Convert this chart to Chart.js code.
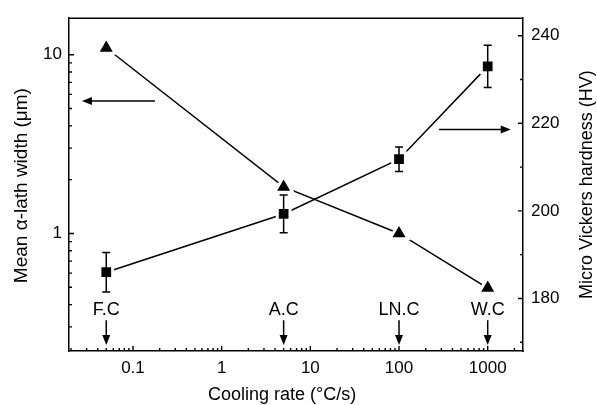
<!DOCTYPE html>
<html>
<head>
<meta charset="utf-8">
<script src="https://cdn.jsdelivr.net/npm/chart.js@4.4.1/dist/chart.umd.min.js"></script>
<style>
  html, body { margin: 0; padding: 0; background: #fff; }
</style>
</head>
<body>
<canvas id="chart" width="597" height="405"></canvas>
<script>
// data
const coolingRates = [0.05, 5, 100, 1000];          // °C/s
const coolingNames = ['F.C', 'A.C', 'LN.C', 'W.C'];
const lathWidth    = [10.9, 1.82, 1.0, 0.495];      // µm, left log axis
const hardness     = [186.0, 199.3, 211.8, 233.0];  // HV, right axis
const hardnessErr  = [4.5, 4.3, 2.8, 4.8];

// axes
const xRange      = [0.019, 2500];
const leftRange   = [0.22, 16];
const rightRange  = [168, 244];
const xTickLabels = [0.1, 1, 10, 100, 1000];
const leftTickLabels  = [1, 10];
const rightTickValues = [170, 180, 190, 200, 210, 220, 230, 240];
const rightTickLabels = [180, 200, 220, 240];

// annotations (in data units)
const nameLabelY = 0.352, nameArrowTop = 0.327, nameArrowTip = 0.2375;
const leftArrow  = { y: 5.5,   from: 0.177, to: 0.0266 };
const rightArrow = { y: 218.6, from: 283,   to: 1820 };

const FONT = '"Liberation Sans", Arial, sans-serif';

// log ticks 1..9 per decade inside the range
function logTicks(min, max) {
  const out = [];
  for (let e = Math.floor(Math.log10(min)); e <= Math.ceil(Math.log10(max)); e++) {
    for (let m = 1; m <= 9; m++) {
      const v = parseFloat((m * Math.pow(10, e)).toPrecision(6));
      if (v >= min && v <= max) out.push({ value: v });
    }
  }
  return out;
}
function isIn(list, v) {
  return list.some(t => Math.abs(t - v) / t < 1e-6);
}

function arrow(ctx, x1, y1, x2, y2, head, half) {
  const a = Math.atan2(y2 - y1, x2 - x1);
  ctx.beginPath();
  ctx.moveTo(x1, y1);
  ctx.lineTo(x2 - Math.cos(a) * head * 0.8, y2 - Math.sin(a) * head * 0.8);
  ctx.stroke();
  ctx.beginPath();
  ctx.moveTo(x2, y2);
  ctx.lineTo(x2 - Math.cos(a) * head - Math.sin(a) * half, y2 - Math.sin(a) * head + Math.cos(a) * half);
  ctx.lineTo(x2 - Math.cos(a) * head + Math.sin(a) * half, y2 - Math.sin(a) * head - Math.cos(a) * half);
  ctx.closePath();
  ctx.fill();
}

const decorPlugin = {
  id: 'decor',
  afterDraw(chart) {
    const ctx = chart.ctx;
    const a = chart.chartArea;
    const sx = chart.scales.x, sy = chart.scales.y, sy2 = chart.scales.y2;
    ctx.save();
    ctx.strokeStyle = '#000';
    ctx.fillStyle = '#000';

    // top frame line
    ctx.lineWidth = 1.5;
    ctx.beginPath();
    ctx.moveTo(a.left, a.top);
    ctx.lineTo(a.right, a.top);
    ctx.stroke();

    // inward tick marks
    ctx.lineWidth = 1.4;
    ctx.beginPath();
    sx.ticks.forEach(t => {
      const px = sx.getPixelForValue(t.value);
      const len = isIn(xTickLabels, t.value) ? 5 : 3;
      ctx.moveTo(px, a.bottom); ctx.lineTo(px, a.bottom - len);
    });
    sy.ticks.forEach(t => {
      const py = sy.getPixelForValue(t.value);
      const len = isIn(leftTickLabels, t.value) ? 5 : 3;
      ctx.moveTo(a.left, py); ctx.lineTo(a.left + len, py);
    });
    sy2.ticks.forEach(t => {
      const py = sy2.getPixelForValue(t.value);
      const len = rightTickLabels.includes(t.value) ? 5 : 3;
      ctx.moveTo(a.right, py); ctx.lineTo(a.right - len, py);
    });
    ctx.stroke();

    // error bars on hardness
    ctx.lineWidth = 1.5;
    hardness.forEach((h, i) => {
      const px = sx.getPixelForValue(coolingRates[i]);
      const top = sy2.getPixelForValue(h + hardnessErr[i]);
      const bot = sy2.getPixelForValue(h - hardnessErr[i]);
      ctx.beginPath();
      ctx.moveTo(px, top); ctx.lineTo(px, bot);
      ctx.moveTo(px - 4, top); ctx.lineTo(px + 4, top);
      ctx.moveTo(px - 4, bot); ctx.lineTo(px + 4, bot);
      ctx.stroke();
    });

    // cooling method labels with down arrows
    ctx.font = '18px ' + FONT;
    ctx.textAlign = 'center';
    ctx.textBaseline = 'alphabetic';
    coolingNames.forEach((n, i) => {
      const px = sx.getPixelForValue(coolingRates[i]);
      ctx.fillText(n, px, sy.getPixelForValue(nameLabelY));
      ctx.lineWidth = 1.5;
      arrow(ctx, px, sy.getPixelForValue(nameArrowTop), px, sy.getPixelForValue(nameArrowTip), 10, 4);
    });

    // axis pointers
    arrow(ctx, sx.getPixelForValue(leftArrow.from), sy.getPixelForValue(leftArrow.y),
               sx.getPixelForValue(leftArrow.to), sy.getPixelForValue(leftArrow.y), 10, 4);
    arrow(ctx, sx.getPixelForValue(rightArrow.from), sy2.getPixelForValue(rightArrow.y),
               sx.getPixelForValue(rightArrow.to), sy2.getPixelForValue(rightArrow.y), 10, 4);

    // axis titles
    ctx.textBaseline = 'middle';
    ctx.font = '18px ' + FONT;
    ctx.fillText('Cooling rate (°C/s)', 282, 395);
    ctx.save();
    ctx.translate(22, (a.top + a.bottom) / 2 + 1);
    ctx.rotate(-Math.PI / 2);
    ctx.font = '19px ' + FONT;
    ctx.fillText('Mean α-lath width (μm)', 0, 0);
    ctx.restore();
    ctx.save();
    ctx.translate(587, (a.top + a.bottom) / 2);
    ctx.rotate(-Math.PI / 2);
    ctx.font = '18px ' + FONT;
    ctx.fillText('Micro Vickers hardness (HV)', 0, 0);
    ctx.restore();

    ctx.restore();
  }
};

const tickFont = { family: FONT, size: 17 };

new Chart(document.getElementById('chart'), {
  type: 'line',
  data: {
    datasets: [
      {
        label: 'Mean α-lath width',
        data: coolingRates.map((x, i) => ({ x: x, y: lathWidth[i] })),
        yAxisID: 'y',
        borderColor: '#000',
        backgroundColor: '#000',
        borderWidth: 1.5,
        pointStyle: 'triangle',
        pointRadius: 10.5,
        pointBorderColor: '#fff',
        pointBorderWidth: 3,
        tension: 0
      },
      {
        label: 'Micro Vickers hardness',
        data: coolingRates.map((x, i) => ({ x: x, y: hardness[i] })),
        yAxisID: 'y2',
        borderColor: '#000',
        backgroundColor: '#000',
        borderWidth: 1.5,
        pointStyle: 'rect',
        pointRadius: 9,
        pointBorderColor: '#fff',
        pointBorderWidth: 3,
        tension: 0
      }
    ]
  },
  options: {
    responsive: false,
    animation: false,
    devicePixelRatio: 1,
    layout: { padding: { top: 14, left: 0, right: 0, bottom: 0 } },
    plugins: {
      legend: { display: false },
      tooltip: { enabled: false }
    },
    scales: {
      x: {
        type: 'logarithmic',
        position: 'bottom',
        min: xRange[0],
        max: xRange[1],
        bounds: 'data',
        afterBuildTicks: s => { s.ticks = logTicks(xRange[0], xRange[1]); },
        afterFit: s => { s.height = 54; },
        grid: { display: false, drawTicks: false },
        border: { display: true, color: '#000', width: 1.5 },
        ticks: {
          autoSkip: false,
          maxRotation: 0,
          padding: 7,
          color: '#000',
          font: tickFont,
          callback: v => { const t = xTickLabels.find(l => Math.abs(l - v) / l < 1e-6); return t !== undefined ? String(t) : ''; }
        }
      },
      y: {
        type: 'logarithmic',
        position: 'left',
        min: leftRange[0],
        max: leftRange[1],
        bounds: 'data',
        afterBuildTicks: s => { s.ticks = logTicks(leftRange[0], leftRange[1]); },
        afterFit: s => { s.width = 69; },
        grid: { display: false, drawTicks: false },
        border: { display: true, color: '#000', width: 1.5 },
        ticks: {
          autoSkip: false,
          padding: 7,
          color: '#000',
          font: tickFont,
          callback: v => { const t = leftTickLabels.find(l => Math.abs(l - v) / l < 1e-6); return t !== undefined ? String(t) : ''; }
        }
      },
      y2: {
        type: 'linear',
        position: 'right',
        min: rightRange[0],
        max: rightRange[1],
        afterBuildTicks: s => { s.ticks = rightTickValues.map(v => ({ value: v })); },
        afterFit: s => { s.width = 74; },
        grid: { display: false, drawTicks: false },
        border: { display: true, color: '#000', width: 1.5 },
        ticks: {
          autoSkip: false,
          padding: 8,
          color: '#000',
          font: tickFont,
          callback: v => rightTickLabels.includes(v) ? String(v) : ''
        }
      }
    }
  },
  plugins: [decorPlugin]
});
</script>
</body>
</html>
